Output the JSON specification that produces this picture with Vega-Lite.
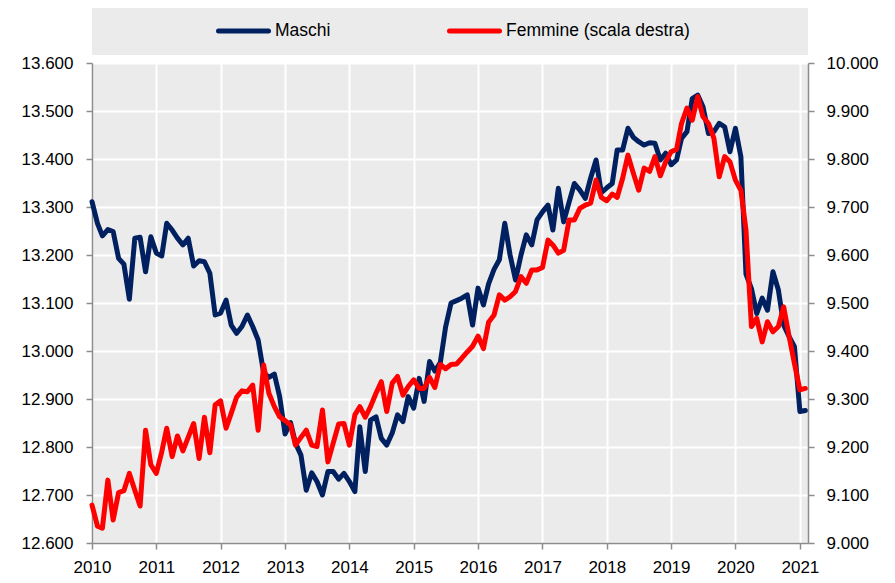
{
"$schema":"https://vega.github.io/schema/vega-lite/v6.json",
"autosize":{"type":"pad"},
"padding":{"left":21,"top":8,"right":17,"bottom":7},
"background":"white",
"bounds":"flush",
"spacing":8,
"config":{
 "view":{"fill":"#EBEBEB","stroke":null},
 "font":"Liberation Sans",
 "axis":{"labelFont":"Liberation Sans","labelFontSize":17,"labelColor":"#000000","domainColor":"#8c8c8c","domainWidth":1.5,"tickColor":"#8c8c8c","tickWidth":1.5,"tickSize":6,"gridColor":"#FFFFFF","gridWidth":2,"title":null,"labelFlush":false,"labelOverlap":false},
 "legend":{"orient":"none","legendX":124,"legendY":-42,"direction":"horizontal","columns":2,"padding":0,"title":null,"labelFont":"Liberation Sans","labelFontSize":17.5,"labelColor":"#000000","symbolType":"stroke","symbolStrokeWidth":5,"symbolSize":2500,"clipHeight":20,"labelOffset":4,"columnPadding":116,"labelLimit":500}
},
"resolve":{"scale":{"color":"independent"}},
"vconcat":[
{"width":716,"height":47,"view":{"fill":"#EBEBEB","stroke":null},"data":{"values":[]},"mark":{"type":"point","opacity":0}},
{"width":716,"height":480,
"data":{"values":[
{"date":"2010-01-01","maschi":13311,"femmine":9079},
{"date":"2010-02-01","maschi":13266,"femmine":9035},
{"date":"2010-03-01","maschi":13240,"femmine":9031},
{"date":"2010-04-01","maschi":13253,"femmine":9131},
{"date":"2010-05-01","maschi":13249,"femmine":9048},
{"date":"2010-06-01","maschi":13193,"femmine":9105},
{"date":"2010-07-01","maschi":13181,"femmine":9109},
{"date":"2010-08-01","maschi":13108,"femmine":9145},
{"date":"2010-09-01","maschi":13235,"femmine":9110},
{"date":"2010-10-01","maschi":13237,"femmine":9077},
{"date":"2010-11-01","maschi":13165,"femmine":9235},
{"date":"2010-12-01","maschi":13238,"femmine":9163},
{"date":"2011-01-01","maschi":13204,"femmine":9145},
{"date":"2011-02-01","maschi":13198,"femmine":9190},
{"date":"2011-03-01","maschi":13266,"femmine":9239},
{"date":"2011-04-01","maschi":13252,"femmine":9180},
{"date":"2011-05-01","maschi":13235,"femmine":9223},
{"date":"2011-06-01","maschi":13221,"femmine":9192},
{"date":"2011-07-01","maschi":13235,"femmine":9220},
{"date":"2011-08-01","maschi":13177,"femmine":9249},
{"date":"2011-09-01","maschi":13188,"femmine":9176},
{"date":"2011-10-01","maschi":13186,"femmine":9262},
{"date":"2011-11-01","maschi":13162,"femmine":9188},
{"date":"2011-12-01","maschi":13075,"femmine":9288},
{"date":"2012-01-01","maschi":13079,"femmine":9296},
{"date":"2012-02-01","maschi":13106,"femmine":9239},
{"date":"2012-03-01","maschi":13054,"femmine":9270},
{"date":"2012-04-01","maschi":13037,"femmine":9304},
{"date":"2012-05-01","maschi":13051,"femmine":9317},
{"date":"2012-06-01","maschi":13075,"femmine":9315},
{"date":"2012-07-01","maschi":13051,"femmine":9329},
{"date":"2012-08-01","maschi":13023,"femmine":9235},
{"date":"2012-09-01","maschi":12955,"femmine":9371},
{"date":"2012-10-01","maschi":12945,"femmine":9312},
{"date":"2012-11-01","maschi":12952,"femmine":9284},
{"date":"2012-12-01","maschi":12905,"femmine":9263},
{"date":"2013-01-01","maschi":12827,"femmine":9255},
{"date":"2013-02-01","maschi":12851,"femmine":9246},
{"date":"2013-03-01","maschi":12808,"femmine":9204},
{"date":"2013-04-01","maschi":12783,"femmine":9220},
{"date":"2013-05-01","maschi":12710,"femmine":9235},
{"date":"2013-06-01","maschi":12746,"femmine":9204},
{"date":"2013-07-01","maschi":12728,"femmine":9201},
{"date":"2013-08-01","maschi":12700,"femmine":9277},
{"date":"2013-09-01","maschi":12749,"femmine":9169},
{"date":"2013-10-01","maschi":12749,"femmine":9208},
{"date":"2013-11-01","maschi":12733,"femmine":9248},
{"date":"2013-12-01","maschi":12745,"femmine":9249},
{"date":"2014-01-01","maschi":12728,"femmine":9204},
{"date":"2014-02-01","maschi":12707,"femmine":9267},
{"date":"2014-03-01","maschi":12842,"femmine":9284},
{"date":"2014-04-01","maschi":12749,"femmine":9262},
{"date":"2014-05-01","maschi":12856,"femmine":9284},
{"date":"2014-06-01","maschi":12863,"femmine":9312},
{"date":"2014-07-01","maschi":12818,"femmine":9336},
{"date":"2014-08-01","maschi":12804,"femmine":9274},
{"date":"2014-09-01","maschi":12829,"femmine":9333},
{"date":"2014-10-01","maschi":12867,"femmine":9347},
{"date":"2014-11-01","maschi":12853,"femmine":9308},
{"date":"2014-12-01","maschi":12905,"femmine":9326},
{"date":"2015-01-01","maschi":12881,"femmine":9340},
{"date":"2015-02-01","maschi":12943,"femmine":9322},
{"date":"2015-03-01","maschi":12895,"femmine":9322},
{"date":"2015-04-01","maschi":12978,"femmine":9345},
{"date":"2015-05-01","maschi":12958,"femmine":9324},
{"date":"2015-06-01","maschi":12976,"femmine":9372},
{"date":"2015-07-01","maschi":13050,"femmine":9363},
{"date":"2015-08-01","maschi":13100,"femmine":9372},
{"date":"2015-09-01","maschi":13105,"femmine":9373},
{"date":"2015-10-01","maschi":13110,"femmine":9385},
{"date":"2015-11-01","maschi":13117,"femmine":9398},
{"date":"2015-12-01","maschi":13054,"femmine":9410},
{"date":"2016-01-01","maschi":13131,"femmine":9431},
{"date":"2016-02-01","maschi":13096,"femmine":9405},
{"date":"2016-03-01","maschi":13140,"femmine":9460},
{"date":"2016-04-01","maschi":13170,"femmine":9475},
{"date":"2016-05-01","maschi":13190,"femmine":9517},
{"date":"2016-06-01","maschi":13266,"femmine":9506},
{"date":"2016-07-01","maschi":13200,"femmine":9513},
{"date":"2016-08-01","maschi":13148,"femmine":9524},
{"date":"2016-09-01","maschi":13200,"femmine":9555},
{"date":"2016-10-01","maschi":13242,"femmine":9541},
{"date":"2016-11-01","maschi":13221,"femmine":9569},
{"date":"2016-12-01","maschi":13273,"femmine":9569},
{"date":"2017-01-01","maschi":13290,"femmine":9574},
{"date":"2017-02-01","maschi":13304,"femmine":9631},
{"date":"2017-03-01","maschi":13252,"femmine":9621},
{"date":"2017-04-01","maschi":13339,"femmine":9604},
{"date":"2017-05-01","maschi":13269,"femmine":9610},
{"date":"2017-06-01","maschi":13310,"femmine":9673},
{"date":"2017-07-01","maschi":13349,"femmine":9673},
{"date":"2017-08-01","maschi":13335,"femmine":9697},
{"date":"2017-09-01","maschi":13318,"femmine":9704},
{"date":"2017-10-01","maschi":13360,"femmine":9708},
{"date":"2017-11-01","maschi":13398,"femmine":9756},
{"date":"2017-12-01","maschi":13330,"femmine":9720},
{"date":"2018-01-01","maschi":13340,"femmine":9713},
{"date":"2018-02-01","maschi":13349,"femmine":9727},
{"date":"2018-03-01","maschi":13419,"femmine":9720},
{"date":"2018-04-01","maschi":13419,"femmine":9760},
{"date":"2018-05-01","maschi":13464,"femmine":9808},
{"date":"2018-06-01","maschi":13445,"femmine":9770},
{"date":"2018-07-01","maschi":13436,"femmine":9735},
{"date":"2018-08-01","maschi":13429,"femmine":9781},
{"date":"2018-09-01","maschi":13434,"femmine":9774},
{"date":"2018-10-01","maschi":13433,"femmine":9805},
{"date":"2018-11-01","maschi":13398,"femmine":9765},
{"date":"2018-12-01","maschi":13412,"femmine":9794},
{"date":"2019-01-01","maschi":13388,"femmine":9815},
{"date":"2019-02-01","maschi":13398,"femmine":9820},
{"date":"2019-03-01","maschi":13443,"femmine":9874},
{"date":"2019-04-01","maschi":13457,"femmine":9906},
{"date":"2019-05-01","maschi":13526,"femmine":9881},
{"date":"2019-06-01","maschi":13533,"femmine":9930},
{"date":"2019-07-01","maschi":13509,"femmine":9888},
{"date":"2019-08-01","maschi":13453,"femmine":9874},
{"date":"2019-09-01","maschi":13457,"femmine":9843},
{"date":"2019-10-01","maschi":13474,"femmine":9763},
{"date":"2019-11-01","maschi":13467,"femmine":9805},
{"date":"2019-12-01","maschi":13415,"femmine":9794},
{"date":"2020-01-01","maschi":13464,"femmine":9756},
{"date":"2020-02-01","maschi":13405,"femmine":9735},
{"date":"2020-03-01","maschi":13160,"femmine":9652},
{"date":"2020-04-01","maschi":13130,"femmine":9451},
{"date":"2020-05-01","maschi":13078,"femmine":9468},
{"date":"2020-06-01","maschi":13110,"femmine":9419},
{"date":"2020-07-01","maschi":13085,"femmine":9461},
{"date":"2020-08-01","maschi":13165,"femmine":9440},
{"date":"2020-09-01","maschi":13127,"femmine":9451},
{"date":"2020-10-01","maschi":13054,"femmine":9492},
{"date":"2020-11-01","maschi":13030,"femmine":9430},
{"date":"2020-12-01","maschi":13009,"femmine":9374},
{"date":"2021-01-01","maschi":12874,"femmine":9319},
{"date":"2021-02-01","maschi":12876,"femmine":9322}
]},
"layer":[
 {"mark":{"type":"line","strokeWidth":5,"strokeJoin":"round","strokeCap":"round"},
  "encoding":{
   "x":{"field":"date","type":"temporal","scale":{"domain":["2010-01-01","2021-02-16"]},
        "axis":{"format":"%Y","tickCount":{"interval":"year","step":1},"grid":true,"labelPadding":10}},
   "y":{"field":"maschi","type":"quantitative","scale":{"domain":[12600,13600],"zero":false,"nice":false},
        "axis":{"orient":"left","values":[12600,12700,12800,12900,13000,13100,13200,13300,13400,13500,13600],"labelExpr":"replace(format(datum.value, ','), ',', '.')","grid":true,"labelPadding":13}},
   "color":{"datum":"Maschi","type":"nominal",
        "scale":{"domain":["Maschi","Femmine (scala destra)"],"range":["#002060","#FF0000"]},
        "legend":{"encode":{"symbols":{"update":{"strokeCap":{"value":"round"}}}}}}
  }},
 {"mark":{"type":"line","strokeWidth":5,"strokeJoin":"round","strokeCap":"round"},
  "encoding":{
   "x":{"field":"date","type":"temporal"},
   "y":{"field":"femmine","type":"quantitative","scale":{"domain":[9000,10000],"zero":false,"nice":false},
        "axis":{"orient":"right","values":[9000,9100,9200,9300,9400,9500,9600,9700,9800,9900,10000],"labelExpr":"replace(format(datum.value, ','), ',', '.')","grid":false,"labelPadding":12}},
   "color":{"datum":"Femmine (scala destra)","type":"nominal"}
  }}
],
"resolve":{"scale":{"y":"independent"}}
}
]
}
